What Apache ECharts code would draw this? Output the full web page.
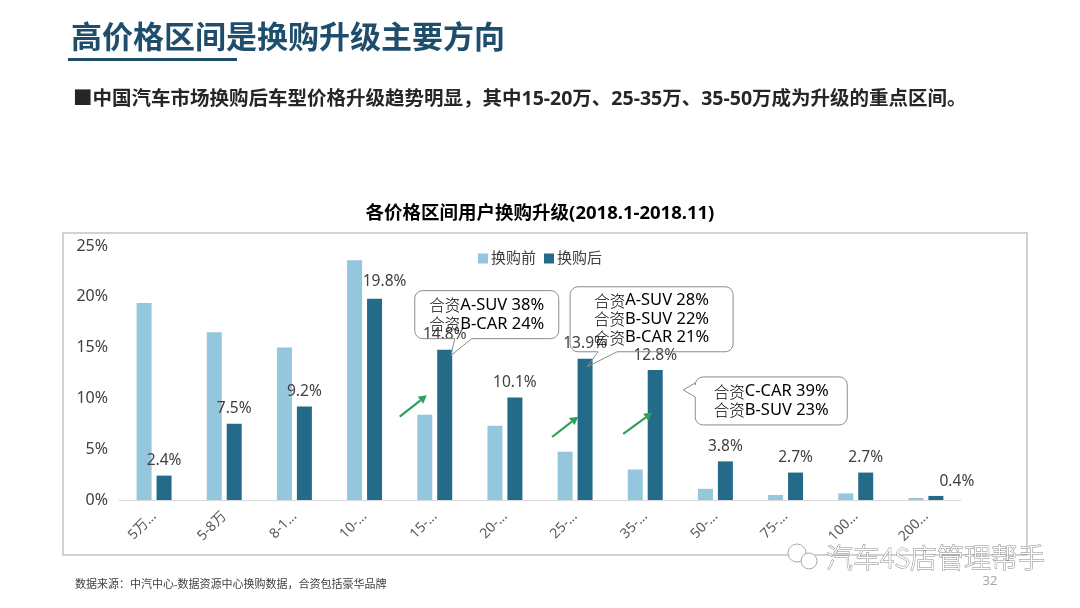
<!DOCTYPE html>
<html><head><meta charset="utf-8">
<script src="https://cdn.jsdelivr.net/npm/echarts@6/dist/echarts.min.js"></script>
<style>html,body{margin:0;padding:0;background:#fff}#c{width:1080px;height:608px}</style>
</head><body><div id="c"></div>
<script>
const categories = ['5万以下','5-8万','8-10万','10-15万','15-20万','20-25万','25-35万','35-50万','50-75万','75-100万','100-200万','200万以上'];
const tickLabels = ['5万…','5-8万','8-1…','10-…','15-…','20-…','25-…','35-…','50-…','75-…','100…','200…'];
const seriesNames = ['换购前','换购后'];
const beforeValues = [19.4,16.5,15.0,23.6,8.4,7.3,4.75,3.0,1.1,0.5,0.65,0.2];
const afterValues = [2.4,7.5,9.2,19.8,14.8,10.1,13.9,12.8,3.8,2.7,2.7,0.4];
const yTickValues = [0,5,10,15,20,25];
const calloutTexts = [
  {cat:4, lines:[['合资','A-SUV 38%'],['合资','B-CAR 24%']]},
  {cat:6, lines:[['合资','A-SUV 28%'],['合资','B-SUV 22%'],['合资','B-CAR 21%']]},
  {cat:7, lines:[['合资','C-CAR 39%'],['合资','B-SUV 23%']]}
];
const arrowCats = [4,6,7];
const pageTitle = '高价格区间是换购升级主要方向';
const subTitle = '■中国汽车市场换购后车型价格升级趋势明显，其中15-20万、25-35万、35-50万成为升级的重点区间。';
const chartTitle = '各价格区间用户换购升级(2018.1-2018.11)';
const sourceText = '数据来源：中汽中心-数据资源中心换购数据，合资包括豪华品牌';
const watermarkText = '汽车4S店管理帮手';
const pageNumber = '32';

const LIGHT = '#94c6dd', DARK = '#246a89', TXT = '#404040';
const FONT = '"Noto Sans","Noto Sans CJK SC",sans-serif';
const chart = echarts.init(document.getElementById('c'), null, {renderer:'canvas'});

const labelOffsets = {3:[10,-3], 11:[21,0]};
const afterData = afterValues.map((v,i)=>labelOffsets[i]?{value:v, label:{offset:labelOffsets[i]}}:v);

chart.setOption({
  backgroundColor:'#fff',
  textStyle:{fontFamily:FONT},
  title:[
    {text:pageTitle, left:66, top:16, textStyle:{fontSize:31, fontWeight:'bold', color:'#1f4e6d', fontFamily:'"Noto Sans CJK SC",sans-serif'}},
    {text:subTitle, left:68, top:85, textStyle:{fontSize:19.5, fontWeight:'bold', color:'#262626', fontFamily:FONT}},
    {text:chartTitle, left:'center', top:199, textStyle:{fontSize:18.5, fontWeight:'bold', color:'#000', fontFamily:FONT}},
    {text:sourceText, left:70, top:574, textStyle:{fontSize:11, fontWeight:'normal', color:TXT, fontFamily:FONT}}
  ],
  legend:{data:seriesNames, top:246, left:'center', itemWidth:10, itemHeight:10, itemGap:8, icon:'rect',
    textStyle:{fontSize:15, color:TXT, fontFamily:FONT, padding:[0,0,0,-2]}},
  grid:{left:119, right:119, top:246, bottom:108, containLabel:false},
  xAxis:{type:'category', data:categories,
    axisLine:{lineStyle:{color:'#d9d9d9', width:1}}, axisTick:{show:false},
    axisLabel:{rotate:45, fontSize:14, color:'#595959', margin:14, interval:0,
      formatter:(v,i)=>tickLabels[i]}},
  yAxis:{type:'value', min:0, max:25, interval:5, splitLine:{show:false},
    axisLine:{show:false}, axisTick:{show:false},
    axisLabel:{fontSize:16, color:TXT, margin:11, formatter:v=>yTickValues.includes(v)?v+'%':''}},
  series:[
    {name:seriesNames[0], type:'bar', data:beforeValues, barWidth:15, barGap:'33%', itemStyle:{color:LIGHT}},
    {name:seriesNames[1], type:'bar', data:afterData, barWidth:15, itemStyle:{color:DARK},
      label:{show:true, position:'top', distance:7, fontSize:15.5, color:TXT, formatter:p=>p.value+'%'}}
  ]
});

function arcPts(cx,cy,r,a0,a1){
  const pts=[]; const n=6;
  for(let i=0;i<=n;i++){const a=a0+(a1-a0)*i/n; pts.push([cx+r*Math.cos(a), cy+r*Math.sin(a)]);}
  return pts;
}
function bubblePoints(x0,y0,x1,y1,r,ptr){
  const P=Math.PI; let pts=[];
  pts = pts.concat(arcPts(x0+r,y0+r,r,P,1.5*P));
  pts = pts.concat(arcPts(x1-r,y0+r,r,1.5*P,2*P));
  pts = pts.concat(arcPts(x1-r,y1-r,r,0,0.5*P));
  if(ptr.side==='bottom'){ pts.push([ptr.b,y1],[ptr.tx,ptr.ty],[ptr.a,y1]); }
  pts = pts.concat(arcPts(x0+r,y1-r,r,0.5*P,P));
  if(ptr.side==='left'){ pts.push([x0,ptr.b],[ptr.tx,ptr.ty],[x0,ptr.a]); }
  return pts;
}

const graphics = [];
graphics.push({type:'rect', shape:{x:68, y:58, width:169, height:3}, style:{fill:'#1f4e6d'}, silent:true});
graphics.push({type:'rect', shape:{x:63, y:233, width:964, height:322}, style:{fill:'none', stroke:'#c4c4c4', lineWidth:1.5}, silent:true, z:-1});

const bubbleGeom = [
  {tipDx:6, tipDy:6, rect:[-36,-65,108,-17], side:'bottom', a:4, b:21},
  {tipDx:2, tipDy:8, rect:[-17,-80,146,-15], side:'bottom', a:11, b:30},
  {tipDx:28, tipDy:20, rect:[12,-13,164,35], side:'left', a:-7, b:7}
];
calloutTexts.forEach((c,k)=>{
  const g = bubbleGeom[k];
  const pt = chart.convertToPixel({seriesIndex:1}, [c.cat, afterValues[c.cat]]);
  const barCx = pt[0] + 10;
  const tx = barCx + g.tipDx, ty = pt[1] + g.tipDy;
  const x0 = tx+g.rect[0], y0 = ty+g.rect[1], x1 = tx+g.rect[2], y1 = ty+g.rect[3];
  const ptr = g.side==='bottom' ? {side:'bottom', tx, ty, a:tx+g.a, b:tx+g.b} : {side:'left', tx, ty, a:ty+g.a, b:ty+g.b};
  graphics.push({type:'polygon', shape:{points:bubblePoints(x0,y0,x1,y1,8,ptr)}, style:{fill:'rgba(255,255,255,0)', stroke:'#8c8c8c', lineWidth:1}, silent:true, z:50});
  const lh = 18.5;
  const cy = (y0+y1)/2;
  c.lines.forEach((ln,j)=>{
    graphics.push({type:'text', x:(x0+x1)/2, y: cy + (j-(c.lines.length-1)/2)*lh, silent:true, z:51,
      style:{text:`{a|${ln[0]}}{b|${ln[1]}}`, align:'center', verticalAlign:'middle',
        rich:{a:{fontSize:15.5, color:'#6b6b6b', fontFamily:'"Noto Sans CJK SC",sans-serif', fontWeight:300},
              b:{fontSize:16.5, color:TXT, fontFamily:FONT}}}});
  });
});

const arrowGeom = [
  {dx1:-35, v1:8.2, dx2:-8, v2:10.3},
  {dx1:-23, v1:6.2, dx2:3, v2:8.2},
  {dx1:-22, v1:6.5, dx2:7, v2:8.6}
];
arrowCats.forEach((cat,k)=>{
  const g = arrowGeom[k];
  const p1 = chart.convertToPixel({seriesIndex:0}, [cat, g.v1]);
  const p2 = chart.convertToPixel({seriesIndex:0}, [cat, g.v2]);
  const x1 = p1[0]+g.dx1, y1 = p1[1], x2 = p2[0]+g.dx2, y2 = p2[1];
  const ang = Math.atan2(y2-y1, x2-x1);
  const L = 8, W = 4.5;
  const bx = x2 - L*Math.cos(ang), by = y2 - L*Math.sin(ang);
  graphics.push({type:'line', shape:{x1:x1, y1:y1, x2:bx, y2:by}, style:{stroke:'#2e9e5b', lineWidth:2.2}, silent:true, z:40});
  graphics.push({type:'polygon', shape:{points:[[x2,y2],[bx+W*Math.sin(ang), by-W*Math.cos(ang)],[bx-W*Math.sin(ang), by+W*Math.cos(ang)]]}, style:{fill:'#2e9e5b'}, silent:true, z:40});
});

graphics.push({type:'circle', shape:{cx:797, cy:553, r:9}, style:{fill:'#fff', stroke:'#aaa', lineWidth:1}, silent:true, z:60});
graphics.push({type:'circle', shape:{cx:809, cy:561, r:8}, style:{fill:'#fff', stroke:'#aaa', lineWidth:1}, silent:true, z:61});
graphics.push({type:'text', x:826, y:558, silent:true, z:62,
  style:{text:watermarkText, fontSize:27, fill:'#fff', stroke:'#8a8a8a', lineWidth:1, verticalAlign:'middle', fontFamily:'"Noto Sans CJK SC",sans-serif', fontWeight:300}});
graphics.push({type:'text', x:990, y:581, silent:true, z:62,
  style:{text:pageNumber, fontSize:13, fill:'#a6a6a6', align:'center', verticalAlign:'middle', fontFamily:FONT}});

chart.setOption({graphic:graphics});
</script></body></html>
